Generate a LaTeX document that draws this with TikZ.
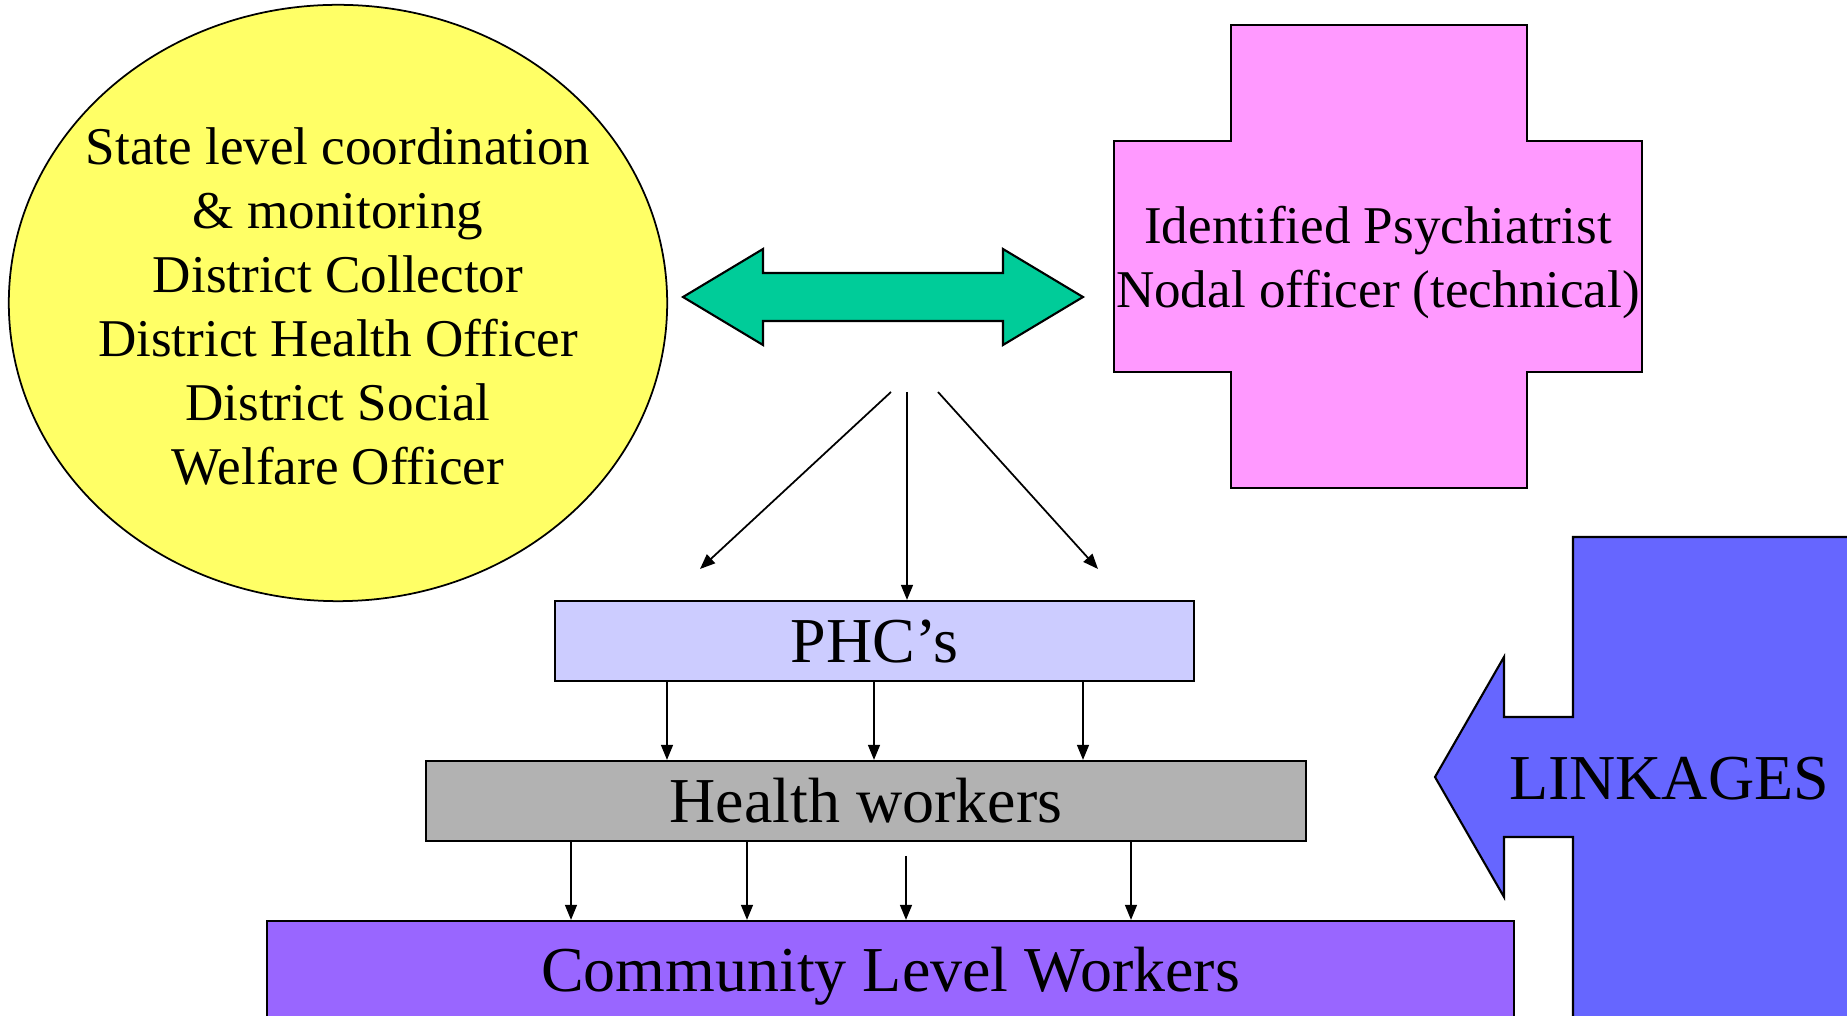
\documentclass[tikz,border=0pt]{standalone}
\usepackage{fontspec}
\setmainfont{Liberation Serif}
\usetikzlibrary{shapes.geometric,arrows.meta}

\definecolor{ovalyellow}{HTML}{FFFF66}
\definecolor{crosspink}{HTML}{FF99FF}
\definecolor{arrowgreen}{HTML}{00CC99}
\definecolor{phcblue}{HTML}{CCCCFF}
\definecolor{hwgray}{HTML}{B2B2B2}
\definecolor{clwpurple}{HTML}{9966FF}
\definecolor{linkblue}{HTML}{6666FF}

\tikzset{
  smalltext/.style={font=\fontsize{15.1}{18.2}\selectfont, align=center},
  bigtext/.style={font=\fontsize{18.2}{21.8}\selectfont, text height=14pt, text depth=1.8pt},
  box/.style={draw=black, line width=0.6pt, minimum height=0.8cm, inner sep=0pt, bigtext},
  link/.style={-{Triangle[length=4.3pt,width=3.4pt]}, line width=0.5pt},
  shape line/.style={draw=black, line width=0.6pt},
}

\begin{document}
\begin{tikzpicture}[x=0.01cm,y=-0.01cm]
    \useasboundingbox (0,0) rectangle (1847,1016);
    \clip (0,0) rectangle (1847,1016);
    \fill[white] (0,0) rectangle (1847,1016);
    % oval
    \node[ellipse, draw=black, line width=0.5pt, fill=ovalyellow, minimum width=6.58cm,
      minimum height=5.96cm, inner sep=0pt] (oval) at (338,303) {};
    \node[smalltext] (ovaltext) at (338,306)
      {State level coordination\\\& monitoring\\District Collector\\District Health Officer\\District Social\\Welfare Officer};
    % cross
    \draw[shape line, fill=crosspink] (1231,25) -- (1527,25) -- (1527,141) -- (1642,141)
      -- (1642,372) -- (1527,372) -- (1527,488) -- (1231,488) -- (1231,372) -- (1114,372)
      -- (1114,141) -- (1231,141) -- cycle;
    \node[smalltext] (psych) at (1378,262) {Identified Psychiatrist\\Nodal officer (technical)};
    % double arrow
    \draw[shape line, fill=arrowgreen] (683,297) -- (763,249) -- (763,273) -- (1003,273)
      -- (1003,249) -- (1083,297) -- (1003,345) -- (1003,321) -- (763,321) -- (763,345) -- cycle;
    % boxes
    \node[box, fill=phcblue, minimum width=6.39cm] (phc) at (874.5,641) {PHC’s};
    \node[box, fill=hwgray, minimum width=8.8cm] (hw) at (866,801) {Health workers};
    \node[box, fill=clwpurple, minimum width=12.47cm, minimum height=1.2cm, text depth=8.3pt]
      (clw) at (890.5,981) {Community Level Workers};
    % linkages
    \draw[shape line, fill=linkblue] (1900,537) -- (1573,537) -- (1573,717) -- (1504,717)
      -- (1504,657) -- (1435,777) -- (1504,897) -- (1504,837) -- (1573,837) -- (1573,1100)
      -- (1900,1100) -- cycle;
    \node[bigtext, anchor=base] (linkages) at (1669,800) {LINKAGES};
    % fan of arrows
    \coordinate (fanL) at (891,392);
    \coordinate (fanM) at (907,392);
    \coordinate (fanR) at (938,392);
    \coordinate (endL) at (700,569);
    \coordinate (endR) at (1098,569);
    \draw[link] (fanL) -- (endL);
    \draw[link] (fanM) -- (fanM |- phc.north);
    \draw[link] (fanR) -- (endR);
    \foreach \x in {667,874,1083}
      \draw[link] (\x,0 |- phc.south) -- (\x,0 |- hw.north);
    \foreach \x in {571,747,1131}
      \draw[link] (\x,0 |- hw.south) -- (\x,0 |- clw.north);
    \coordinate (gap) at (906,856);
    \draw[link] (gap) -- (gap |- clw.north);
\end{tikzpicture}
\end{document}
